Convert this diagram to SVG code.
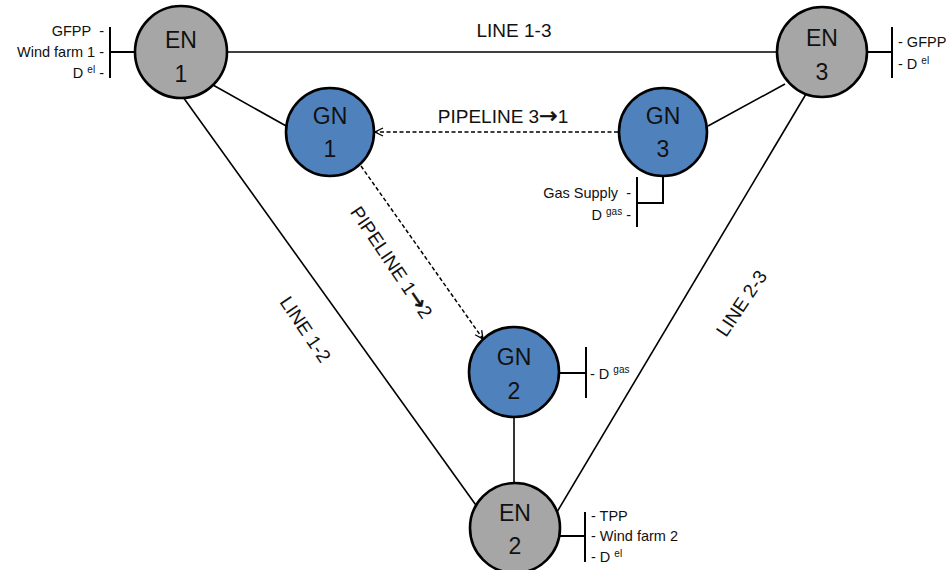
<svg xmlns="http://www.w3.org/2000/svg" width="946" height="570" viewBox="0 0 946 570">
  <defs>
    <marker id="openArrow" viewBox="0 0 10 10" refX="9" refY="5" markerWidth="10" markerHeight="10" markerUnits="userSpaceOnUse" orient="auto">
      <path d="M1,1 L9,5 L1,9" fill="none" stroke="#000" stroke-width="1.3"/>
    </marker>
  </defs>
  <style>
    .node { stroke: #000; stroke-width: 2.6; }
    .en { fill: #a6a6a6; }
    .gn { fill: #4f81bd; }
    .nlabel { font-family: "Liberation Sans", Arial, sans-serif; font-size: 23px; fill: #111; text-anchor: middle; }
    .link { stroke: #000; stroke-width: 1.6; fill: none; }
    .pipe { stroke: #000; stroke-width: 1.5; fill: none; stroke-dasharray: 4 2.5; }
    .bar { stroke: #000; stroke-width: 2; fill: none; }
    .lbl { font-family: "Liberation Sans", Arial, sans-serif; font-size: 19px; fill: #111; }
    .arr { font-family: "DejaVu Sans", sans-serif; font-size: 22px; stroke: #111; stroke-width: 0.6; }
    .side { font-family: "Liberation Sans", Arial, sans-serif; font-size: 14.5px; fill: #111; }
    .sup { font-size: 10px; }
  </style>

  <!-- connectors -->
  <g id="connectors">
    <line class="link" x1="227" y1="52" x2="777" y2="52"/>
    <line class="link" x1="213" y1="85" x2="288" y2="127"/>
    <line class="link" x1="183" y1="97" x2="478" y2="508"/>
    <line class="link" x1="785" y1="84" x2="708" y2="126"/>
    <line class="link" x1="806" y1="94" x2="557" y2="512"/>
    <line class="link" x1="514" y1="417" x2="514" y2="483"/>
    <line class="pipe" x1="618" y1="132" x2="375" y2="132" marker-end="url(#openArrow)"/>
    <line class="pipe" x1="361" y1="166" x2="483" y2="339" marker-end="url(#openArrow)"/>
    <text class="lbl" x="514" y="37" text-anchor="middle">LINE 1-3</text>
    <text class="lbl" x="503" y="123" text-anchor="middle">PIPELINE 3<tspan class="arr">→</tspan>1</text>
    <text class="lbl" text-anchor="middle" transform="translate(386,266) rotate(56)">PIPELINE 1<tspan class="arr">→</tspan>2</text>
    <text class="lbl" text-anchor="middle" transform="translate(300,333) rotate(56)">LINE 1-2</text>
    <text class="lbl" text-anchor="middle" transform="translate(747,307) rotate(-56)">LINE 2-3</text>
  </g>

  <!-- electricity node 1 -->
  <g id="EN1">
    <path class="bar" d="M135,52 H110 M110,27 V78"/>
    <text class="side" x="104" y="36" text-anchor="end">GFPP&#160; -</text>
    <text class="side" x="104" y="57" text-anchor="end">Wind farm 1 -</text>
    <text class="side" x="104" y="78" text-anchor="end">D <tspan class="sup" dy="-5">el</tspan><tspan dy="5"> -</tspan></text>
    <circle class="node en" cx="181" cy="52" r="46"/>
    <text class="nlabel" x="181" y="48">EN</text>
    <text class="nlabel" x="181" y="82">1</text>
  </g>

  <!-- electricity node 3 -->
  <g id="EN3">
    <path class="bar" d="M867,52 H892 M892,27 V78"/>
    <text class="side" x="898" y="47">- GFPP</text>
    <text class="side" x="898" y="69">- D <tspan class="sup" dy="-5">el</tspan></text>
    <circle class="node en" cx="822" cy="52" r="45"/>
    <text class="nlabel" x="822" y="46">EN</text>
    <text class="nlabel" x="822" y="80">3</text>
  </g>

  <!-- gas node 1 -->
  <g id="GN1">
    <circle class="node gn" cx="330" cy="132" r="44"/>
    <text class="nlabel" x="330" y="124">GN</text>
    <text class="nlabel" x="330" y="157">1</text>
  </g>

  <!-- gas node 3 -->
  <g id="GN3">
    <path class="bar" d="M663,176 V203 H637 M637,177 V227"/>
    <text class="side" x="631" y="198" text-anchor="end">Gas Supply&#160; -</text>
    <text class="side" x="631" y="220" text-anchor="end">D <tspan class="sup" dy="-5">gas</tspan><tspan dy="5"> -</tspan></text>
    <circle class="node gn" cx="663" cy="132" r="44"/>
    <text class="nlabel" x="663" y="124">GN</text>
    <text class="nlabel" x="663" y="157">3</text>
  </g>

  <!-- gas node 2 -->
  <g id="GN2">
    <path class="bar" d="M559,373 H586 M586,347 V398"/>
    <text class="side" x="590" y="379">- D <tspan class="sup" dy="-6">gas</tspan></text>
    <circle class="node gn" cx="514" cy="372" r="45"/>
    <text class="nlabel" x="514" y="365">GN</text>
    <text class="nlabel" x="514" y="399">2</text>
  </g>

  <!-- electricity node 2 -->
  <g id="EN2">
    <path class="bar" d="M559,536 H585 M585,512 V562"/>
    <text class="side" x="591" y="521">- TPP</text>
    <text class="side" x="591" y="541">- Wind farm 2</text>
    <text class="side" x="591" y="562">- D <tspan class="sup" dy="-5">el</tspan></text>
    <circle class="node en" cx="515" cy="528" r="45"/>
    <text class="nlabel" x="515" y="521">EN</text>
    <text class="nlabel" x="515" y="554">2</text>
  </g>
</svg>
